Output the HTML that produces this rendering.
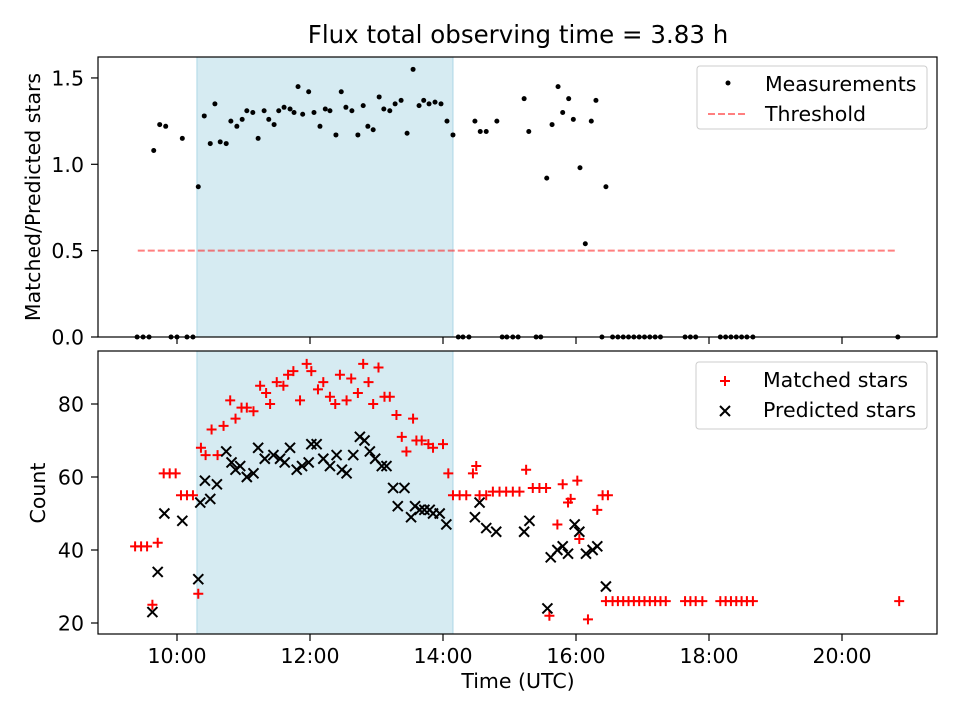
<!DOCTYPE html>
<html><head><meta charset="utf-8"><style>
body{margin:0;background:#fff;}
svg{display:block;font-family:"DejaVu Sans","Liberation Sans",sans-serif;}
</style></head><body>
<svg id="chart" width="960" height="720"></svg>
<script>
const ratioTimes=[9.65,9.74,9.83,10.08,10.32,10.41,10.5,10.57,10.65,10.74,10.81,10.9,10.98,11.05,11.14,11.22,11.31,11.38,11.46,11.53,11.61,11.70,11.76,11.82,11.89,11.98,12.06,12.15,12.23,12.3,12.39,12.47,12.54,12.63,12.72,12.8,12.87,12.95,13.04,13.11,13.2,13.28,13.37,13.46,13.55,13.64,13.71,13.79,13.88,13.97,14.06,14.15,14.48,14.56,14.65,14.81,15.22,15.29,15.56,15.64,15.73,15.8,15.89,15.96,16.06,16.14,16.23,16.3,16.45];
const ratioValues=[1.08,1.23,1.22,1.15,0.87,1.28,1.12,1.35,1.13,1.12,1.25,1.22,1.26,1.31,1.30,1.15,1.31,1.26,1.23,1.31,1.33,1.32,1.30,1.45,1.29,1.42,1.30,1.22,1.32,1.31,1.17,1.42,1.33,1.31,1.17,1.34,1.22,1.20,1.39,1.32,1.31,1.35,1.37,1.18,1.55,1.34,1.37,1.35,1.36,1.35,1.25,1.17,1.25,1.19,1.19,1.25,1.38,1.19,0.92,1.23,1.45,1.30,1.38,1.26,0.98,0.54,1.25,1.37,0.87];
const zeroTimes=[9.4,9.49,9.58,9.91,10.0,10.15,10.24,14.23,14.3,14.39,14.89,14.96,15.05,15.13,15.4,15.47,16.39,16.55,16.63,16.71,16.79,16.87,16.95,17.03,17.11,17.19,17.27,17.64,17.72,17.8,18.17,18.25,18.33,18.41,18.49,18.57,18.66,20.84];
const matchedTimes=[9.37,9.46,9.55,9.63,9.71,9.80,9.89,9.98,10.06,10.15,10.24,10.32,10.36,10.43,10.52,10.61,10.70,10.80,10.88,10.97,11.05,11.15,11.25,11.34,11.40,11.50,11.60,11.67,11.75,11.85,11.95,12.02,12.12,12.20,12.30,12.38,12.45,12.55,12.62,12.72,12.80,12.88,12.95,13.03,13.12,13.20,13.30,13.38,13.45,13.55,13.60,13.68,13.78,13.85,14.00,14.08,14.15,14.25,14.35,14.45,14.50,14.55,14.65,14.75,14.85,14.95,15.05,15.15,15.25,15.35,15.45,15.55,15.60,15.72,15.80,15.88,15.92,16.02,16.05,16.18,16.32,16.40,16.48,16.45,16.55,16.63,16.71,16.79,16.87,16.95,17.03,17.11,17.19,17.27,17.35,17.64,17.72,17.8,17.9,18.17,18.25,18.33,18.41,18.49,18.57,18.66,20.86];
const matchedValues=[41,41,41,25,42,61,61,61,55,55,55,28,68,66,73,66,74,81,76,79,79,78,85,83,80,86,85,88,89,81,91,89,84,86,82,80,88,81,87,83,91,86,80,90,82,82,77,71,67,76,70,70,69,68,69,61,55,55,55,61,63,55,55,56,56,56,56,56,62,57,57,57,22,47,58,53,54,59,43,21,51,55,55,26,26,26,26,26,26,26,26,26,26,26,26,26,26,26,26,26,26,26,26,26,26,26,26,26];
const predTimes=[9.63,9.71,9.81,10.08,10.32,10.35,10.42,10.50,10.60,10.74,10.82,10.88,10.95,11.05,11.15,11.22,11.32,11.45,11.55,11.62,11.70,11.80,11.88,11.98,12.02,12.10,12.20,12.30,12.40,12.48,12.55,12.65,12.75,12.82,12.90,12.98,13.08,13.15,13.25,13.32,13.42,13.52,13.58,13.65,13.72,13.80,13.85,13.95,14.05,14.48,14.55,14.65,14.80,15.22,15.30,15.57,15.62,15.72,15.80,15.88,15.98,16.05,16.15,16.25,16.32,16.45];
const predValues=[23,34,50,48,32,53,59,54,58,67,64,62,63,60,61,68,65,66,65,64,68,62,63,64,69,69,65,63,66,62,61,66,71,70,67,65,63,63,57,52,57,49,52,51,51,51,50,50,47,49,53,46,45,45,48,24,38,40,41,39,47,45,39,40,41,30];
const xTicks=[10,12,14,16,18,20];
const xTickLabels=["10:00","12:00","14:00","16:00","18:00","20:00"];
const topTicks=[0,0.5,1.0,1.5];
const botTicks=[20,40,60,80];
const shadeStart=10.3, shadeEnd=14.15, threshold=0.5, thrStart=9.41, thrEnd=20.83;

const NS="http://www.w3.org/2000/svg";
const svg=document.getElementById('chart');
function el(tag,attrs,parent){const e=document.createElementNS(NS,tag);for(const k in attrs)e.setAttribute(k,attrs[k]);(parent||svg).appendChild(e);return e;}
const L=98,R=937,FS=20.5,TL=7;
const x=t=>177+(t-10)*66.5;
const yTop=v=>337-v*172.7;
const yBot=v=>404-(v-80)*3.65;

function frame(top,bot,name){
  const r=el('rect',{x:L,y:top,width:R-L,height:bot-top,fill:'none',stroke:'#000','stroke-width':1.2});
  
  
}
[[57,337,'top-shade'],[351,634,'bottom-shade']].forEach(([a,b,n])=>{
  const s=el('rect',{x:x(shadeStart),y:a,width:x(shadeEnd)-x(shadeStart),height:b-a,fill:'#add8e6','fill-opacity':0.5,stroke:'#add8e6'});
  
  
});
const ti=el('text',{x:518,y:43,'text-anchor':'middle','font-size':24.5});ti.textContent='Flux total observing time = 3.83 h';


xTicks.forEach((t,i)=>{
  el('line',{x1:x(t),x2:x(t),y1:337,y2:337+TL,stroke:'#000','stroke-width':1.2});
  el('line',{x1:x(t),x2:x(t),y1:634,y2:634+TL,stroke:'#000','stroke-width':1.2});
  const tx=el('text',{x:x(t),y:663,'text-anchor':'middle','font-size':FS});tx.textContent=xTickLabels[i];
  
  
});
topTicks.forEach(v=>{
  el('line',{x1:L-TL,x2:L,y1:yTop(v),y2:yTop(v),stroke:'#000','stroke-width':1.2});
  const tx=el('text',{x:L-14,y:yTop(v)+7.5,'text-anchor':'end','font-size':FS});tx.textContent=v.toFixed(1);
  
  
});
botTicks.forEach(v=>{
  el('line',{x1:L-TL,x2:L,y1:yBot(v),y2:yBot(v),stroke:'#000','stroke-width':1.2});
  const tx=el('text',{x:L-14,y:yBot(v)+7.5,'text-anchor':'end','font-size':FS});tx.textContent=v;
  
  
});
let t1=el('text',{x:0,y:0,'text-anchor':'middle','font-size':FS,transform:'translate(40,197) rotate(-90)'});t1.textContent='Matched/Predicted stars';


let t2=el('text',{x:0,y:0,'text-anchor':'middle','font-size':FS,transform:'translate(45,493) rotate(-90)'});t2.textContent='Count';


let t3=el('text',{x:518,y:688,'text-anchor':'middle','font-size':FS});t3.textContent='Time (UTC)';


const th=el('line',{x1:x(thrStart),x2:x(thrEnd),y1:yTop(threshold),y2:yTop(threshold),stroke:'#ff0000','stroke-opacity':0.5,'stroke-width':2,'stroke-dasharray':'7,3'});


ratioTimes.forEach((t,i)=>{
  const c=el('circle',{cx:x(t),cy:yTop(ratioValues[i]),r:2.5,fill:'#000'});
  
  
});
zeroTimes.forEach(t=>{
  const c=el('circle',{cx:x(t),cy:yTop(0),r:2.5,fill:'#000'});
  
  
});
function plus(cx,cy,name){const p=el('path',{d:`M${cx-5},${cy}H${cx+5}M${cx},${cy-5}V${cy+5}`,stroke:'#ff0000','stroke-width':2});
  
  }
function cross(cx,cy,name){const p=el('path',{d:`M${cx-5},${cy-5}L${cx+5},${cy+5}M${cx-5},${cy+5}L${cx+5},${cy-5}`,stroke:'#000','stroke-width':2});
  
  }
matchedTimes.forEach((t,i)=>plus(x(t),yBot(matchedValues[i]),'matched-star-point'));
predTimes.forEach((t,i)=>cross(x(t),yBot(predValues[i]),'predicted-star-point'));
frame(57,337,'top-axes');
frame(351,634,'bottom-axes');
const lg1=el('rect',{x:697,y:66,width:230,height:63,rx:3,fill:'#fff','fill-opacity':0.8,stroke:'#ccc'});


el('circle',{cx:728,cy:83,r:2.5,fill:'#000'});
let a=el('text',{x:765,y:91,'font-size':FS});a.textContent='Measurements';


el('line',{x1:708,x2:748,y1:114,y2:114,stroke:'#ff0000','stroke-opacity':0.5,'stroke-width':2,'stroke-dasharray':'7,3'});
a=el('text',{x:765,y:121,'font-size':FS});a.textContent='Threshold';


const lg2=el('rect',{x:696,y:362,width:231,height:67,rx:3,fill:'#fff','fill-opacity':0.8,stroke:'#ccc'});


plus(725,381,'legend-matched-marker');
a=el('text',{x:763,y:387,'font-size':FS});a.textContent='Matched stars';


cross(725,411,'legend-predicted-marker');
a=el('text',{x:763,y:417,'font-size':FS});a.textContent='Predicted stars';


</script>
</body></html>
